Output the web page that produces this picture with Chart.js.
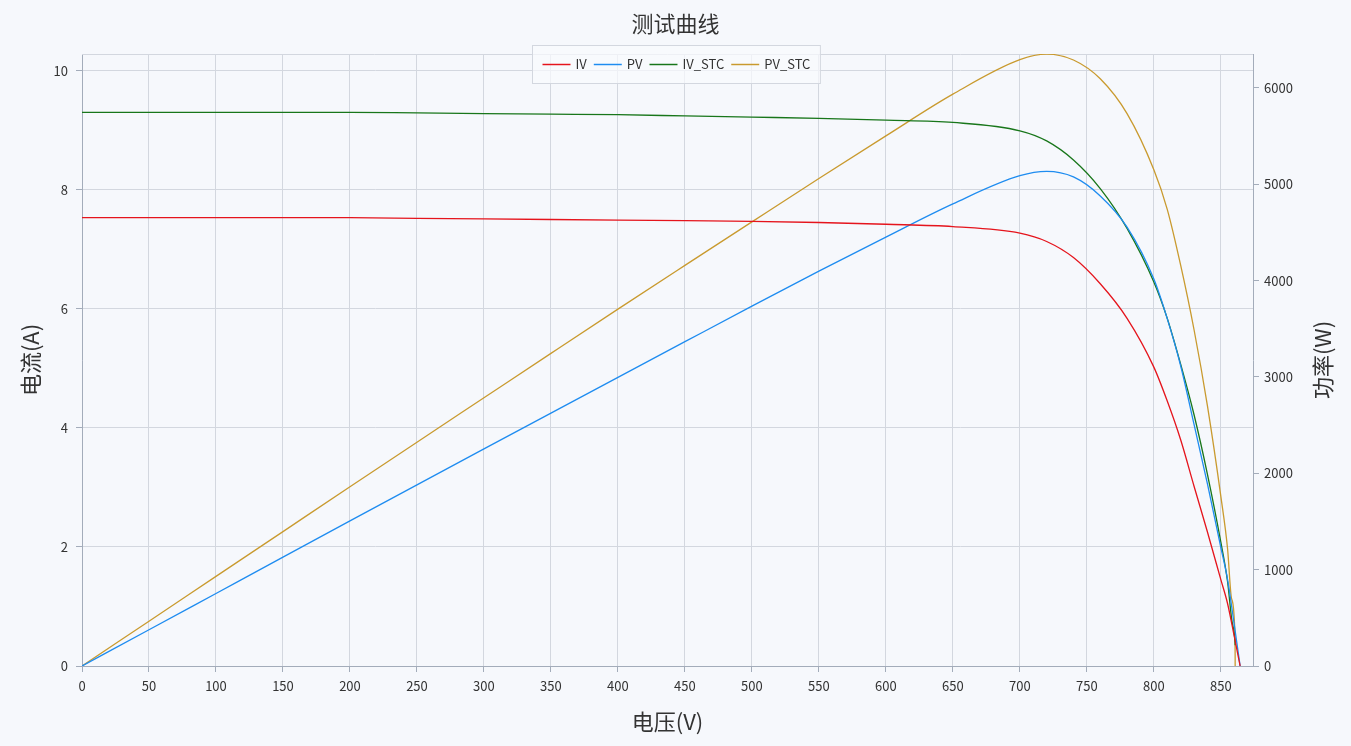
<!DOCTYPE html>
<html lang="zh">
<head>
  <meta charset="UTF-8" />
  <title>测试曲线</title>
  <script src="https://cdn.jsdelivr.net/npm/chart.js"></script>
  <style>
    html, body {
      margin: 0;
      padding: 0;
      background: #f6f8fc;
    }

    .wrap {
      width: 1351px;
      height: 746px;
      position: relative;
    }
  </style>
</head>
<body>
  <div class="wrap">
    <canvas id="ivChart"></canvas>
  </div>

  <script>
    // measured curve
    const voltage = [0, 50, 100, 150, 200, 250, 300, 350, 400, 450, 500, 550, 600, 650, 700, 720, 740, 760, 780, 800, 810, 820, 830, 840, 850, 855, 860, 864.4];
    const current = [7.53, 7.53, 7.53, 7.53, 7.53, 7.52, 7.51, 7.50, 7.49, 7.48, 7.47, 7.45, 7.42, 7.38, 7.27, 7.13, 6.86, 6.42, 5.84, 5.02, 4.45, 3.80, 3.02, 2.25, 1.45, 1.05, 0.50, 0];
    const power = [0, 376, 753, 1130, 1506, 1880, 2253, 2625, 2996, 3366, 3735, 4098, 4452, 4797, 5089, 5134, 5076, 4879, 4555, 4016, 3605, 3116, 2507, 1890, 1230, 900, 430, 0];

    // STC corrected curve
    const voltageStc = [0, 50, 100, 150, 200, 250, 300, 350, 400, 450, 500, 550, 600, 650, 700, 720, 740, 760, 780, 800, 810, 820, 830, 840, 850, 855, 858, 860.6, 860.7];
    const currentStc = [9.30, 9.30, 9.30, 9.30, 9.30, 9.29, 9.28, 9.27, 9.26, 9.24, 9.22, 9.20, 9.17, 9.13, 8.99, 8.82, 8.50, 8.02, 7.35, 6.45, 5.84, 5.07, 4.22, 3.22, 2.08, 1.42, 0.80, 0.40, 0.35];
    const powerStc = [0, 465, 930, 1395, 1860, 2323, 2784, 3245, 3704, 4158, 4610, 5060, 5502, 5935, 6293, 6350, 6290, 6095, 5733, 5150, 4740, 4160, 3490, 2700, 1760, 1220, 700, 290, 0];

    // tick values
    const currentTicks = [0, 2, 4, 6, 8, 10];
    const powerTicks = [0, 1000, 2000, 3000, 4000, 5000, 6000];
    const voltageTicks = [0, 50, 100, 150, 200, 250, 300, 350, 400, 450, 500, 550, 600, 650, 700, 750, 800, 850];

    const seriesNames = ['IV', 'PV', 'IV_STC', 'PV_STC'];
    const seriesColors = ['#e5141c', '#1e8cf0', '#18761a', '#c99a2e'];

    const GRID = '#d3d7df';
    const AXIS = '#a3acba';
    const TEXT = '#333333';
    const FONT = "'Noto Sans CJK SC', 'Noto Sans', sans-serif";

    Chart.defaults.font.family = FONT;
    Chart.defaults.color = TEXT;

    function toPoints(xs, ys) {
      return xs.map((x, i) => ({ x: x, y: ys[i] }));
    }

    function fixedTicks(values) {
      return scale => { scale.ticks = values.map(v => ({ value: v })); };
    }

    // top border of the plot + boxed legend + right axis title
    const extras = {
      id: 'extras',
      beforeDatasetsDraw(chart) {
        const { ctx, chartArea } = chart;
        ctx.save();
        ctx.strokeStyle = GRID;
        ctx.lineWidth = 1;
        ctx.beginPath();
        ctx.moveTo(chartArea.left, chartArea.top + 0.5);
        ctx.lineTo(chartArea.right, chartArea.top + 0.5);
        ctx.stroke();
        ctx.restore();
      },
      afterDraw(chart) {
        const { ctx, chartArea } = chart;
        ctx.save();

        // legend
        ctx.font = '13px ' + FONT;
        const lineLen = 28, gapText = 5, gapItem = 7, padX = 10, boxH = 38;
        const items = chart.data.datasets.map(ds => ({
          label: ds.label, color: ds.borderColor, w: ctx.measureText(ds.label).width
        }));
        let total = padX * 2;
        items.forEach((it, i) => {
          total += lineLen + gapText + it.w + (i < items.length - 1 ? gapItem : 0);
        });
        const boxX = Math.round(chart.width / 2 - total / 2) + 0.5;
        const boxY = chartArea.top - 9 + 0.5;
        ctx.fillStyle = 'rgba(250,251,254,0.7)';
        ctx.fillRect(boxX, boxY, total, boxH);
        ctx.strokeStyle = GRID;
        ctx.lineWidth = 1;
        ctx.strokeRect(boxX, boxY, total, boxH);

        let cx = boxX + padX;
        const cy = boxY + boxH / 2;
        items.forEach(it => {
          ctx.strokeStyle = it.color;
          ctx.lineWidth = 1.5;
          ctx.beginPath();
          ctx.moveTo(cx, cy);
          ctx.lineTo(cx + lineLen, cy);
          ctx.stroke();
          cx += lineLen + gapText;
          ctx.fillStyle = TEXT;
          ctx.textBaseline = 'middle';
          ctx.textAlign = 'left';
          ctx.fillText(it.label, cx, cy);
          cx += it.w + gapItem;
        });

        // right axis title, read bottom to top like the left one
        const y1 = chart.scales.y1;
        ctx.font = '22px ' + FONT;
        ctx.fillStyle = TEXT;
        ctx.textAlign = 'center';
        ctx.textBaseline = 'middle';
        ctx.translate(y1.right - 28, (chartArea.top + chartArea.bottom) / 2);
        ctx.rotate(-Math.PI / 2);
        ctx.fillText('功率(W)', 0, 0);
        ctx.restore();
      }
    };

    const lineStyle = {
      borderWidth: 1.3,
      pointRadius: 0,
      pointHoverRadius: 0,
      fill: false,
      cubicInterpolationMode: 'monotone'
    };

    const ctx = document.getElementById('ivChart').getContext('2d');
    const chart = new Chart(ctx, {
      type: 'line',
      data: {
        datasets: [
          Object.assign({ label: seriesNames[0], data: toPoints(voltage, current), borderColor: seriesColors[0], yAxisID: 'y' }, lineStyle),
          Object.assign({ label: seriesNames[1], data: toPoints(voltage, power), borderColor: seriesColors[1], yAxisID: 'y1' }, lineStyle),
          Object.assign({ label: seriesNames[2], data: toPoints(voltageStc, currentStc), borderColor: seriesColors[2], yAxisID: 'y' }, lineStyle),
          Object.assign({ label: seriesNames[3], data: toPoints(voltageStc, powerStc), borderColor: seriesColors[3], yAxisID: 'y1' }, lineStyle)
        ]
      },
      options: {
        responsive: true,
        maintainAspectRatio: false,
        animation: false,
        layout: { padding: 0 },
        plugins: {
          legend: { display: false },
          tooltip: { enabled: false },
          title: {
            display: true,
            text: '测试曲线',
            color: TEXT,
            font: { size: 22, weight: 'normal' },
            padding: { top: 10, bottom: 17.6 }
          }
        },
        scales: {
          x: {
            type: 'linear',
            min: 0,
            max: 874,
            afterFit: s => { s.height = 80; },
            afterBuildTicks: fixedTicks(voltageTicks),
            ticks: { padding: 6, color: TEXT, font: { size: 13 }, autoSkip: false, maxRotation: 0 },
            grid: { color: GRID, tickColor: AXIS, tickLength: 6 },
            border: { color: AXIS },
            title: { display: true, text: '电压(V)', color: TEXT, font: { size: 22 }, padding: { top: 0, bottom: 11 } }
          },
          y: {
            position: 'left',
            min: 0,
            max: 10.28,
            afterFit: s => { s.width = 82; },
            afterBuildTicks: fixedTicks(currentTicks),
            ticks: { padding: 8, color: TEXT, font: { size: 13 } },
            grid: { color: GRID, tickColor: AXIS, tickLength: 6 },
            border: { color: AXIS },
            title: { display: true, text: '电流(A)', color: TEXT, font: { size: 22 }, padding: { top: 17, bottom: 0 } }
          },
          y1: {
            position: 'right',
            min: 0,
            max: 6352,
            afterFit: s => { s.width = 98; },
            afterBuildTicks: fixedTicks(powerTicks),
            ticks: { padding: 5, color: TEXT, font: { size: 13 }, callback: v => String(v) },
            grid: { drawOnChartArea: false, tickColor: AXIS, tickLength: 6 },
            border: { color: AXIS }
          }
        }
      },
      plugins: [extras]
    });
  </script>
</body>
</html>
